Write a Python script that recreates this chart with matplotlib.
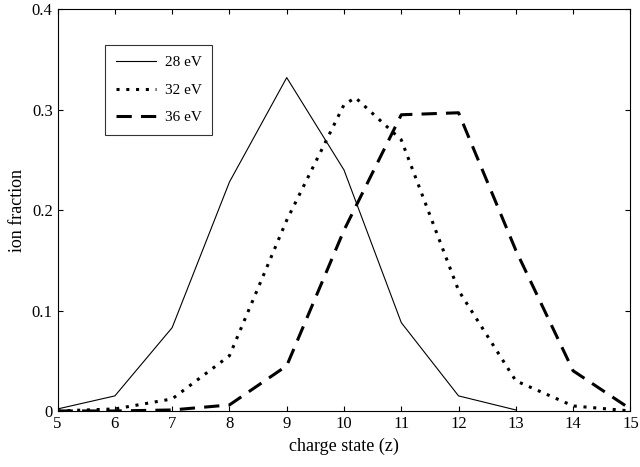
import matplotlib
matplotlib.use("Agg")
import matplotlib.pyplot as plt

z_28 = [5, 6, 7, 8, 9, 10, 11, 12, 13]
f_28 = [0.002, 0.015, 0.083, 0.228, 0.332, 0.24, 0.088, 0.015, 0.001]
z_32 = [5, 6, 7, 8, 9, 10, 10.2, 11, 12, 13, 14, 15]
f_32 = [0.0, 0.002, 0.012, 0.055, 0.19, 0.305, 0.312, 0.27, 0.12, 0.03, 0.005, 0.0]
z_36 = [5, 6, 7, 8, 9, 10, 11, 12, 13, 14, 15]
f_36 = [0.0, 0.0, 0.001, 0.006, 0.045, 0.18, 0.295, 0.297, 0.16, 0.04, 0.002]

plt.rcParams['font.family'] = ['Liberation Serif', 'DejaVu Serif']
fig, ax = plt.subplots(figsize=(6.4, 4.67), dpi=100)
ax.plot(z_28, f_28, color='black', lw=0.8, label='28 eV')
ax.plot(z_32, f_32, color='black', lw=2.2, linestyle=(0, (1, 2.2)), label='32 eV')
ax.plot(z_36, f_36, color='black', lw=2.2, linestyle=(0, (5, 3)), label='36 eV')
ax.set_xlim(5, 15)
ax.set_ylim(0, 0.4)
ax.set_xticks(range(5, 16))
ax.set_yticks([0, 0.1, 0.2, 0.3, 0.4])
ax.set_yticklabels(['0', '0.1', '0.2', '0.3', '0.4'])
ax.tick_params(direction='in', top=True, right=True, labelsize=12)
ax.set_xlabel('charge state (z)', fontsize=13)
ax.set_ylabel('ion fraction', fontsize=13)
leg = ax.legend(loc='upper left', bbox_to_anchor=(0.07, 0.93), fancybox=False,
                edgecolor='black', fontsize=11, handlelength=2.6, handletextpad=0.6,
                labelspacing=0.9, borderpad=0.7)
leg.get_frame().set_linewidth(0.8)
fig.subplots_adjust(left=0.09, right=0.985, top=0.98, bottom=0.12)
fig.savefig('out.png', dpi=100)
